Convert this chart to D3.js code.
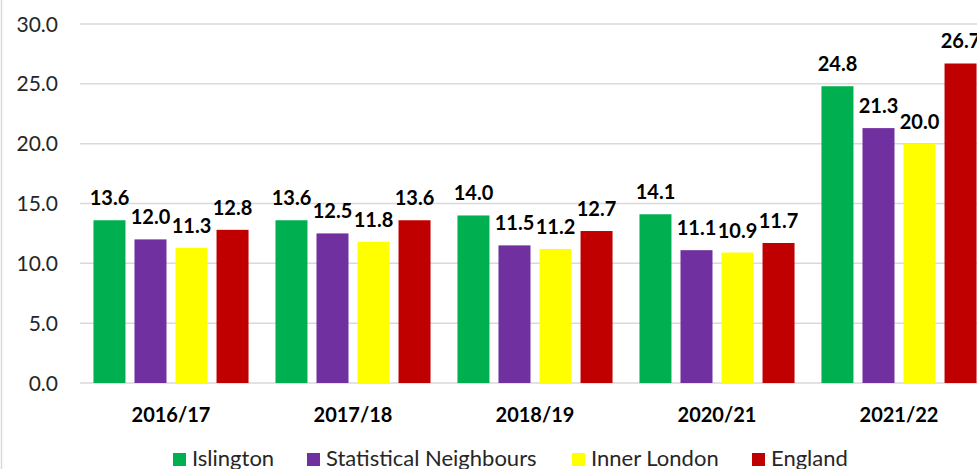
<!DOCTYPE html>
<html>
<head>
<meta charset="utf-8">
<script src="https://cdn.jsdelivr.net/npm/d3@7"></script>
<style>
  body { margin: 0; background: #fff; }
  svg { display: block; }
</style>
</head>
<body>
<script>
// data
var years = ["2016/17", "2017/18", "2018/19", "2020/21", "2021/22"];
var seriesNames = ["Islington", "Statistical Neighbours", "Inner London", "England"];
var seriesColors = ["#00b050", "#7030a0", "#ffff00", "#c00000"];
var islington = [13.6, 13.6, 14.0, 14.1, 24.8];
var statNeighbours = [12.0, 12.5, 11.5, 11.1, 21.3];
var innerLondon = [11.3, 11.8, 11.2, 10.9, 20.0];
var england = [12.8, 13.6, 12.7, 11.7, 26.7];
var yTicks = [0, 5, 10, 15, 20, 25, 30];

var allSeries = [islington, statNeighbours, innerLondon, england];

var width = 977, height = 469;
var font = "Lato, 'Open Sans', sans-serif";

var svg = d3.select("body")
    .append("svg")
    .attr("width", width)
    .attr("height", height);

// light chart border on the left
svg.append("line")
    .attr("x1", 1.5).attr("x2", 1.5)
    .attr("y1", 0).attr("y2", height)
    .attr("stroke", "#d9d9d9")
    .attr("stroke-width", 1.5);

var y = d3.scaleLinear()
    .domain([0, 30])
    .range([383, 24]);

var x0 = d3.scaleBand()
    .domain(years)
    .range([80, 990])
    .paddingInner(0.148)
    .paddingOuter(0.074);

var x1 = d3.scaleBand()
    .domain(d3.range(seriesNames.length))
    .range([0, x0.bandwidth()])
    .paddingInner(0.22)
    .paddingOuter(0);

// gridlines
svg.append("g")
    .selectAll("line")
    .data(yTicks)
    .enter()
    .append("line")
    .attr("x1", 80)
    .attr("x2", width)
    .attr("y1", function(d) { return y(d); })
    .attr("y2", function(d) { return y(d); })
    .attr("stroke", "#d9d9d9")
    .attr("stroke-width", 1.5);

// y axis labels
var yAxis = d3.axisLeft(y)
    .tickValues(yTicks)
    .tickFormat(d3.format(".1f"))
    .tickSize(0)
    .tickPadding(0);

var yg = svg.append("g")
    .attr("transform", "translate(58,0)")
    .call(yAxis);
yg.select(".domain").remove();
yg.selectAll("text")
    .attr("font-family", font)
    .attr("font-size", "21px")
    .attr("fill", "#262626")
    .attr("dy", "0.34em");

// bars
var rows = years.map(function(yr, i) {
    return { year: yr, values: allSeries.map(function(s) { return s[i]; }) };
});

var groups = svg.selectAll(".group")
    .data(rows)
    .enter()
    .append("g")
    .attr("class", "group")
    .attr("transform", function(d) { return "translate(" + x0(d.year) + ",0)"; });

groups.selectAll("rect")
    .data(function(d) { return d.values; })
    .enter()
    .append("rect")
    .attr("x", function(d, i) { return x1(i); })
    .attr("y", function(d) { return y(d); })
    .attr("width", x1.bandwidth())
    .attr("height", function(d) { return y(0) - y(d); })
    .attr("fill", function(d, i) { return seriesColors[i]; });

groups.selectAll(".lbl")
    .data(function(d) { return d.values; })
    .enter()
    .append("text")
    .attr("class", "lbl")
    .attr("x", function(d, i) { return x1(i) + x1.bandwidth() / 2; })
    .attr("y", function(d) { return y(d) - 15; })
    .attr("text-anchor", "middle")
    .attr("font-family", font)
    .attr("font-weight", "bold")
    .attr("font-size", "20px")
    .attr("fill", "#000")
    .text(function(d) { return d.toFixed(1); });

// x axis
var xAxis = d3.axisBottom(x0).tickSize(0).tickPadding(0);
var xg = svg.append("g")
    .attr("transform", "translate(0," + y(0) + ")")
    .call(xAxis);
xg.select(".domain").remove();
xg.selectAll("text")
    .attr("font-family", font)
    .attr("font-weight", "bold")
    .attr("font-size", "20px")
    .attr("fill", "#000")
    .attr("dy", "0")
    .attr("y", 39);

// legend
var legendX = [173, 307, 572, 752];
var legend = svg.selectAll(".legend")
    .data(seriesNames)
    .enter()
    .append("g")
    .attr("class", "legend")
    .attr("transform", function(d, i) { return "translate(" + legendX[i] + ",453)"; });

legend.append("rect")
    .attr("width", 13)
    .attr("height", 13)
    .attr("fill", function(d, i) { return seriesColors[i]; });

legend.append("text")
    .attr("x", 19)
    .attr("y", 13)
    .attr("font-family", font)
    .attr("font-size", "22px")
    .attr("fill", "#262626")
    .text(function(d) { return d; });
</script>
</body>
</html>
